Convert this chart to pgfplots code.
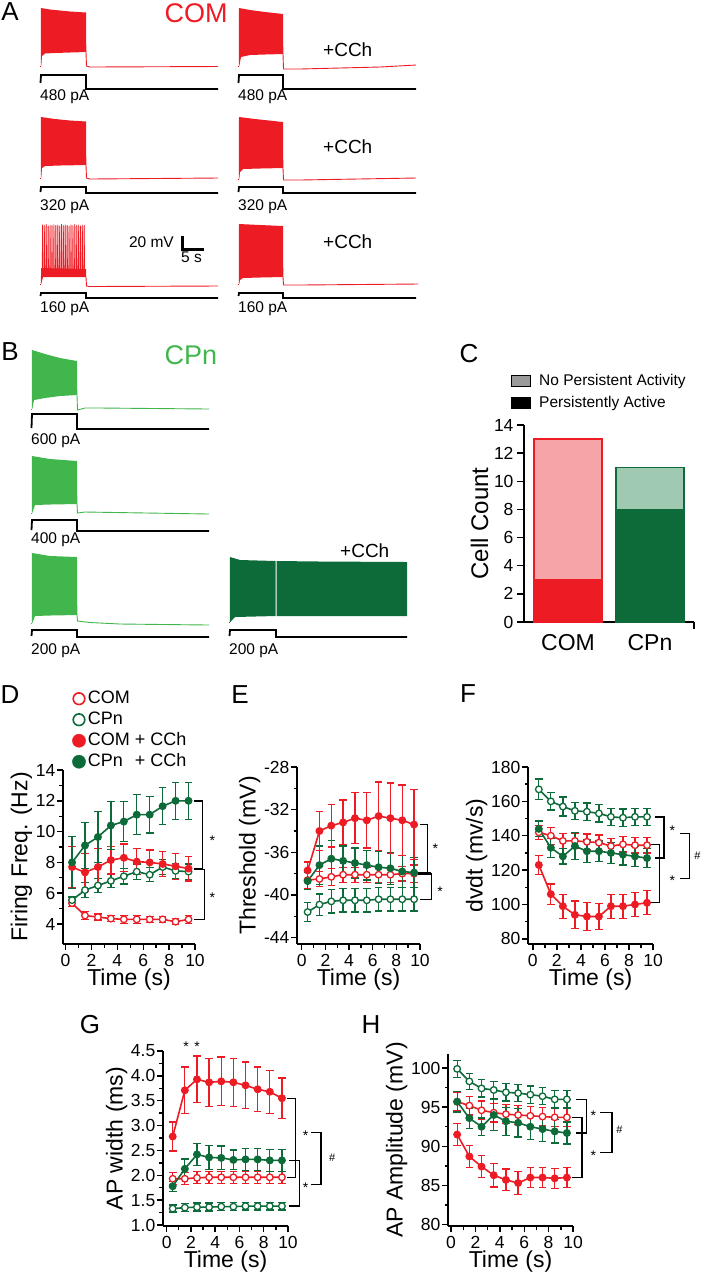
\documentclass[border=0pt]{standalone}
\usepackage{pgfplots}
\pgfplotsset{compat=1.18}
\usepackage{pgfplotstable}
\usepackage{fontspec}
\setmainfont{Liberation Sans}

\definecolor{cRed}{HTML}{ED1C24}
\definecolor{cPink}{HTML}{F7A4A9}
\definecolor{cLGreen}{HTML}{40B64C}
\definecolor{cDGreen}{HTML}{0C6B39}
\definecolor{cPale}{HTML}{A0C9B2}
\definecolor{cBox}{HTML}{9A9A9A}

\newcommand{\fs}[1]{\fontsize{#1}{#1}\selectfont}

% t, COM, CPn, COM+CCh, CPn+CCh (mean, sem)
\pgfplotstableread{
t   comO comOe cpnO cpnOe comC comCe cpnC  cpnCe
0.5 5.35 0.20  5.55 0.20  7.70 1.35  8.00  1.70
1.5 4.55 0.25  6.20 0.50  7.35 1.25  9.10  1.50
2.5 4.45 0.20  6.50 0.45  7.70 1.20  9.65  1.65
3.5 4.35 0.20  6.80 0.45  8.15 0.90  10.40 1.55
4.5 4.30 0.25  7.10 0.50  8.30 0.90  10.65 1.30
5.5 4.30 0.25  7.40 0.50  8.05 0.85  11.10 1.30
6.5 4.30 0.20  7.20 0.45  8.00 0.80  11.10 1.20
7.5 4.30 0.20  7.70 0.50  7.90 0.80  11.65 1.20
8.5 4.15 0.20  7.45 0.50  7.75 0.85  12.00 1.20
9.5 4.30 0.25  7.40 0.50  7.60 0.80  12.00 1.20
}\Dtab
\pgfplotstableread{
t   comO  comOe cpnO  cpnOe comC  comCe cpnC  cpnCe
0.5 -38.6 0.8   -41.6 0.9   -37.7 0.8   -38.7 0.8
1.5 -38.5 0.7   -40.9 1.0   -34.0 1.8   -37.2 1.8
2.5 -38.3 0.8   -40.6 1.1   -33.5 2.0   -36.6 1.7
3.5 -38.1 0.7   -40.5 1.1   -33.2 2.1   -36.8 1.4
4.5 -38.1 0.7   -40.5 1.1   -32.8 2.4   -37.0 1.4
5.5 -38.1 0.7   -40.5 1.1   -33.0 2.6   -37.2 1.4
6.5 -38.1 0.7   -40.4 1.1   -32.6 3.2   -37.4 1.5
7.5 -38.1 0.7   -40.4 1.1   -32.8 3.3   -37.5 1.5
8.5 -38.0 0.7   -40.4 1.1   -33.0 3.3   -37.8 1.5
9.5 -38.0 0.8   -40.4 1.1   -33.4 3.3   -37.9 1.4
}\Etab
\pgfplotstableread{
t   comO  comOe cpnO  cpnOe comC comCe cpnC cpnCe
0.5 142   4.0   167   6.0   123  5.5   144  4.5
1.5 140   5.0   160   5.0   106  6.0   133  5.5
2.5 137   4.5   157   5.5   99   7.0   128  4.5
3.5 137   4.5   154.5 5.0   94   8.0   134  8.0
4.5 136.5 4.5   154   5.0   93   8.0   131  6.5
5.5 136   4.5   153   5.0   93   7.5   131  6.0
6.5 134   4.5   151   5.0   99   7.0   130  6.0
7.5 135   4.5   150.5 5.0   99   7.0   129  6.0
8.5 134.5 4.5   151   5.0   100  7.0   128  6.0
9.5 134.5 4.5   151   5.0   101  7.0   127  5.5
}\Ftab
\pgfplotstableread{
t   comO comOe cpnO cpnOe comC comCe cpnC cpnCe
0.5 1.93 0.12  1.33 0.07  2.78 0.29  1.78 0.10
1.5 1.93 0.12  1.35 0.08  3.71 0.47  2.13 0.20
2.5 1.95 0.12  1.36 0.08  3.93 0.47  2.42 0.22
3.5 1.96 0.12  1.36 0.08  3.87 0.48  2.36 0.24
4.5 1.96 0.12  1.37 0.08  3.89 0.49  2.35 0.24
5.5 1.96 0.12  1.37 0.08  3.87 0.48  2.31 0.20
6.5 1.96 0.12  1.38 0.08  3.81 0.47  2.32 0.22
7.5 1.96 0.12  1.38 0.08  3.73 0.45  2.32 0.22
8.5 1.96 0.12  1.38 0.08  3.68 0.43  2.30 0.22
9.5 1.96 0.12  1.38 0.08  3.55 0.41  2.30 0.22
}\Gtab
\pgfplotstableread{
t   comO comOe cpnO cpnOe comC comCe cpnC cpnCe
0.5 95.7 1.2   99.9 1.1   91.5 1.4   95.7 1.3
1.5 95.2 1.2   98.3 1.0   88.7 1.4   93.6 1.3
2.5 94.6 1.2   97.4 1.1   87.4 1.4   92.5 1.1
3.5 94.3 1.2   97.2 1.1   86.3 1.5   94.0 2.0
4.5 94.1 1.2   96.9 1.1   85.7 1.4   93.2 1.8
5.5 94.0 1.2   96.8 1.1   85.3 1.5   93.0 1.8
6.5 93.9 1.2   96.6 1.1   86.0 1.3   92.5 1.6
7.5 93.8 1.2   96.4 1.1   86.0 1.3   92.2 1.6
8.5 93.7 1.2   96.0 1.1   85.9 1.3   91.9 1.5
9.5 93.7 1.2   96.0 1.1   86.0 1.3   91.7 1.4
}\Htab

\pgfplotsset{
  panel/.style={
    scale only axis, axis lines=left, axis line style={-, line width=1.6pt},
    tick align=outside, tick style={black, line width=1.4pt},
    major tick length=6pt, minor tick length=3.5pt,
    xmin=-0.3, xmax=10, xtick={0,2,...,10}, xticklabels={0,2,4,6,8,10},
    minor x tick num=1, minor y tick num=1,
    tick label style={font=\fs{17.5}},
    xticklabel style={inner sep=1pt, yshift=-3pt},
    yticklabel style={inner sep=1.5pt},
    label style={font=\fs{23}},
    xlabel={Time (s)},
    xlabel style={at={(axis description cs:0.5,0)}, anchor=north, inner sep=0pt, yshift=-25pt},
    ylabel style={inner sep=2pt},
    clip=false,
  },
  ser/.style 2 args={color=#1, line width=1.6pt, mark=*, mark size=3.3pt,
    mark options={fill=#2, draw=#1, line width=1.3pt, solid}, forget plot,
    error bars/.cd, y dir=both, y explicit,
    error bar style={line width=1.3pt, color=#1},
    error mark options={rotate=90, mark size=3.8pt, line width=1.3pt, color=#1}},
}
\tikzset{
  brk/.style={black, line width=1.4pt},
  ast/.style={font=\fs{14}, yshift=-3pt},
  trlab/.style={font=\fs{15.5}, anchor=west, inner sep=0pt},
}

\begin{document}
\begin{tikzpicture}
\useasboundingbox (0pt,0pt) rectangle (703pt,-1280pt);

% ---------------- traces, panels A and B (pixel coordinates) -------------
\begin{axis}[at={(0pt,0pt)}, anchor=north west, scale only axis,
  width=703pt, height=660pt, xmin=0, xmax=703, ymin=0, ymax=660,
  y dir=reverse, axis lines=none, clip=false]

% A, 480 pA
\addplot[cRed, line width=0.9pt] coordinates {(40,66)(41,66)};
\addplot[fill=cRed, draw=none] coordinates {(40.8,66)(41,8)(50,9.5)(60,10.5)(70,11.5)(86,12.5)(86.3,52)(70,52.5)(55,53)(45,53.5)(42,56)(41.3,66)};
\addplot[cRed, line width=0.9pt] coordinates {(86,52)(86.5,66)(90,67)(218,66.5)};
\addplot[black, line width=1.8pt] coordinates {(40.5,83)(41,75)(86,75)(86,89)(218,89)};
\addplot[cRed, line width=0.9pt] coordinates {(237.5,66)(239,66)};
\addplot[fill=cRed, draw=none] coordinates {(238.8,66)(239,8)(250,10)(265,12)(283,14)(283.3,54)(265,54.5)(250,55)(241,57)(239.3,66)};
\addplot[cRed, line width=0.9pt] coordinates {(283,54)(283.5,69)(300,69)(340,68)(380,67)(416,65)};
\addplot[black, line width=1.8pt] coordinates {(238.5,83)(239,75)(283,75)(283,89)(416,89)};
% A, 320 pA
\addplot[cRed, line width=0.9pt] coordinates {(40,178)(41,178)};
\addplot[fill=cRed, draw=none] coordinates {(40.8,178)(41,117)(55,119)(70,120.5)(86,121.5)(86.3,165)(60,165.5)(45,166)(42,168)(41.3,178)};
\addplot[cRed, line width=0.9pt] coordinates {(86,165)(86.5,178)(90,179)(218,178)};
\addplot[black, line width=1.8pt] coordinates {(40.5,192)(41,187)(86,187)(86,193)(218,193)};
\addplot[cRed, line width=0.9pt] coordinates {(237.5,179)(239,179)};
\addplot[fill=cRed, draw=none] coordinates {(238.8,179)(239,117)(255,119)(283,122)(283.3,168)(260,168.5)(243,169)(240,172)(239.3,179)};
\addplot[cRed, line width=0.9pt] coordinates {(283,168)(283.5,180)(300,180)(416,178)};
\addplot[black, line width=1.8pt] coordinates {(238.5,192)(239,187)(283,187)(283,193)(416,193)};
% A, 160 pA
\addplot[cRed, line width=0.9pt] coordinates {(40,284)(41,284)};
\addplot[fill=cRed!22, draw=none] coordinates {(42,226)(85,226)(85,270)(42,270)};
\addplot[fill=cRed, draw=none] coordinates {(40.8,284)(41.2,268)(86,269)(86.2,277)(43,277)(41.3,284)};
\addplot[cRed, line width=0.6pt] coordinates {
(42.15,272)(42.5,224.5)(42.85,272)(44.05,272)(44.4,225)(44.75,272)
(45.95,272)(46.3,224)(46.65,272)(47.85,272)(48.2,225.5)(48.55,272)
(49.75,272)(50.1,224.5)(50.45,272)(51.65,272)(52.0,225)(52.35,272)
(53.55,272)(53.9,224)(54.25,272)(55.45,272)(55.8,225)(56.15,272)
(57.35,272)(57.7,224.5)(58.05,272)(59.25,272)(59.6,225.5)(59.95,272)
(61.15,272)(61.5,224)(61.85,272)(63.05,272)(63.4,225)(63.75,272)
(64.95,272)(65.3,224.5)(65.65,272)(66.85,272)(67.2,225)(67.55,272)
(68.75,272)(69.1,225.5)(69.45,272)(70.65,272)(71.0,224.5)(71.35,272)
(72.55,272)(72.9,225)(73.25,272)(74.45,272)(74.8,224)(75.15,272)
(76.35,272)(76.7,225)(77.05,272)(78.25,272)(78.6,224.5)(78.95,272)
(80.15,272)(80.5,225.5)(80.85,272)(82.05,272)(82.4,224.5)(82.75,272)
(83.95,272)(84.3,225)(84.65,272)};
\addplot[cRed, line width=0.9pt] coordinates {(86,277)(86.5,286)(90,286.5)(218,286)};
\addplot[black, line width=1.8pt] coordinates {(40.5,296)(41,293)(86,293)(86,298)(218,298)};
\addplot[cRed, line width=0.9pt] coordinates {(237.5,284)(239,284)};
\addplot[fill=cRed, draw=none] coordinates {(238.8,284)(239,224)(260,225)(283,226)(283.3,277)(260,277.5)(243,278)(240,280)(239.3,284)};
\addplot[cRed, line width=0.9pt] coordinates {(283,277)(283.5,285)(300,285)(418,284)};
\addplot[black, line width=1.8pt] coordinates {(238.5,296)(239,293)(283,293)(283,298)(416,298)};

% scale bar
\addplot[black, line width=3pt] coordinates {(182,236)(182,249.5)(204,249.5)};

\node[font=\fs{27}, text=cRed] at (axis cs:196,13) {COM};
\node[trlab] at (axis cs:40,97) {480 pA};
\node[trlab] at (axis cs:238,97) {480 pA};
\node[trlab] at (axis cs:40,206.5) {320 pA};
\node[trlab] at (axis cs:238,206.5) {320 pA};
\node[trlab] at (axis cs:40,308.5) {160 pA};
\node[trlab] at (axis cs:238,308.5) {160 pA};
\node[font=\fs{19}, anchor=west, inner sep=0pt] at (axis cs:323,50) {+CCh};
\node[font=\fs{19}, anchor=west, inner sep=0pt] at (axis cs:323,146.5) {+CCh};
\node[font=\fs{19}, anchor=west, inner sep=0pt] at (axis cs:323,241.5) {+CCh};
\node[font=\fs{15.5}, anchor=east, inner sep=0pt] at (axis cs:174,242.5) {20 mV};
\node[trlab] at (axis cs:181,257.5) {5 s};

% B, 600 pA
\addplot[cLGreen, line width=0.9pt] coordinates {(31,409)(32,409)};
\addplot[fill=cLGreen, draw=none] coordinates {(31.8,409)(32,350)(45,354)(60,358)(77,361)(77.3,395)(60,396)(45,398)(34,400)(32.3,409)};
\addplot[cLGreen, line width=0.9pt] coordinates {(77,395)(77.5,410)(85,408)(100,408)(209,409)};
\addplot[black, line width=1.8pt] coordinates {(31.5,428)(32,414)(77,414)(77,429)(209,429)};
% B, 400 pA
\addplot[cLGreen, line width=0.9pt] coordinates {(31,513)(32,513)};
\addplot[fill=cLGreen, draw=none] coordinates {(31.8,513)(32,456)(50,459)(77,461)(77.3,504)(50,504.5)(35,505)(32.3,513)};
\addplot[cLGreen, line width=0.9pt] coordinates {(77,504)(77.5,513)(85,512)(209,514)};
\addplot[black, line width=1.8pt] coordinates {(31.5,530)(32,520)(77,520)(77,531)(209,531)};
% B, 200 pA
\addplot[cLGreen, line width=0.9pt] coordinates {(31,623)(32,623)};
\addplot[fill=cLGreen, draw=none] coordinates {(31.8,623)(32,553)(50,556)(77,557)(77.3,615)(50,615.5)(35,616)(32.3,623)};
\addplot[cLGreen, line width=0.9pt] coordinates {(77,615)(77.5,621)(90,622.5)(120,624)(209,625)};
\addplot[black, line width=1.8pt] coordinates {(31.5,636)(32,630)(77,630)(77,637)(209,637)};
% B, 200 pA + CCh
\addplot[cDGreen, line width=0.9pt] coordinates {(229,622)(230,622)};
\addplot[fill=cDGreen, draw=none] coordinates {(229.8,622)(230,557)(240,560)(275.5,561)(275.5,616)(235,617)(230.3,622)};
\addplot[fill=cDGreen, draw=none] coordinates {(276.6,561)(320,561.5)(407,562)(407,616)(276.6,616)};
\addplot[black, line width=1.8pt] coordinates {(229.5,636)(230,630)(276,630)(276,637)(407,637)};

\node[font=\fs{27}, text=cLGreen] at (axis cs:191,355) {CPn};
\node[trlab] at (axis cs:31,441) {600 pA};
\node[trlab] at (axis cs:31,540) {400 pA};
\node[trlab] at (axis cs:31,650.5) {200 pA};
\node[trlab] at (axis cs:229,650.5) {200 pA};
\node[font=\fs{19}, anchor=west, inner sep=0pt] at (axis cs:340,551) {+CCh};
\end{axis}

% ---------------- C: cell counts ---------------------------------------
\begin{axis}[at={(524pt,-425pt)}, anchor=north west, scale only axis,
  width=170pt, height=197pt, xmin=0.463, xmax=2.537, ymin=0, ymax=14,
  axis lines=left, axis line style={-, line width=1.6pt},
  tick align=outside, tick style={black, line width=1.4pt}, major tick length=7pt,
  ytick={0,2,...,14}, yticklabels={0,2,4,6,8,10,12,14},
  xtick={1,2}, xticklabels={COM,CPn}, xtick style={draw=none},
  tick label style={font=\fs{17.5}}, xticklabel style={font=\fs{23}, inner sep=2pt, yshift=-3pt},
  ylabel={Cell Count}, ylabel style={font=\fs{24}, inner sep=2pt},
  clip=false, legend cell align=left,
  legend style={draw=none, fill=none, inner sep=0pt, at={(rel axis cs:0,1)},
    anchor=north west, xshift=-13pt, yshift=53pt, font=\fs{15.5}, row sep=4pt,
    nodes={inner sep=2pt, text height=11pt, text depth=3pt},
    /tikz/every odd column/.append style={column sep=6pt}},
]
\addplot[ybar, bar width=68pt, bar shift=0pt, fill=cPink, draw=cRed, line width=1.4pt, forget plot] coordinates {(1,13)};
\addplot[ybar, bar width=68pt, bar shift=0pt, fill=cRed, draw=cRed, line width=1.4pt, forget plot] coordinates {(1,3)};
\addplot[ybar, bar width=68pt, bar shift=0pt, fill=cPale, draw=cDGreen, line width=1.4pt, forget plot] coordinates {(2,11)};
\addplot[ybar, bar width=68pt, bar shift=0pt, fill=cDGreen, draw=cDGreen, line width=1.4pt, forget plot] coordinates {(2,8)};
\draw[black, line width=1.4pt] (axis cs:2.537,0) -- ++(0pt,-7pt);
\addlegendimage{legend image code/.code={\draw[fill=cBox, draw=black, line width=1pt] (0pt,-5.5pt) rectangle (19pt,5.5pt);}}
\addlegendentry{No Persistent Activity}
\addlegendimage{legend image code/.code={\draw[fill=black, draw=black, line width=1pt] (0pt,-5.5pt) rectangle (19pt,5.5pt);}}
\addlegendentry{Persistently Active}
\end{axis}

% ---------------- D: firing frequency ----------------------------------
\begin{axis}[panel, at={(63pt,-770pt)}, anchor=north west, width=132pt, height=174pt,
  xmin=-0.2, ymin=2.7, ymax=14, ytick={4,6,...,14}, yticklabels={4,6,8,10,12,14},
  ylabel={Firing Freq. (Hz)}, legend cell align=left,
  legend style={draw=none, fill=none, inner sep=0pt, at={(rel axis cs:0,1)},
    anchor=north west, xshift=9pt, yshift=82pt, font=\fs{18}, row sep=0pt,
    nodes={inner sep=2pt, text height=13pt, text depth=4pt}},
]
\addplot[ser={cRed}{white}] table[x=t, y=comO, y error=comOe] {\Dtab};
\addplot[ser={cDGreen}{white}] table[x=t, y=cpnO, y error=cpnOe] {\Dtab};
\addplot[ser={cRed}{cRed}] table[x=t, y=comC, y error=comCe] {\Dtab};
\addplot[ser={cDGreen}{cDGreen}] table[x=t, y=cpnC, y error=cpnCe] {\Dtab};
\addlegendimage{legend image code/.code={\draw[cRed, fill=white, line width=1.6pt] (6.5pt,0pt) circle (5.8pt);}}
\addlegendentry{COM}
\addlegendimage{legend image code/.code={\draw[cDGreen, fill=white, line width=1.6pt] (6.5pt,0pt) circle (5.8pt);}}
\addlegendentry{CPn}
\addlegendimage{legend image code/.code={\fill[cRed] (6.5pt,0pt) circle (6.6pt);}}
\addlegendentry{COM + CCh}
\addlegendimage{legend image code/.code={\fill[cDGreen] (6.5pt,0pt) circle (6.6pt);}}
\addlegendentry{CPn\hspace{0.67em}+ CCh}
\draw[brk] (axis cs:9.9,12.0) -- (axis cs:10.6,12.0) -- (axis cs:10.6,7.6) -- (axis cs:9.9,7.6);
\draw[brk] (axis cs:9.9,7.55) -- (axis cs:10.75,7.55) -- (axis cs:10.75,4.3) -- (axis cs:9.9,4.3);
\node[ast] at (axis cs:11.35,9.6) {*};
\node[ast] at (axis cs:11.35,5.9) {*};
\end{axis}

% ---------------- E: threshold ------------------------------------------
\begin{axis}[panel, at={(297pt,-767pt)}, anchor=north west, width=123pt, height=177pt,
  xmin=-0.4, ymin=-44.6, ymax=-28, ytick={-44,-40,-36,-32,-28},
  yticklabels={-44,-40,-36,-32,-28}, ylabel={Threshold (mV)}]
\addplot[ser={cRed}{white}] table[x=t, y=comO, y error=comOe] {\Etab};
\addplot[ser={cDGreen}{white}] table[x=t, y=cpnO, y error=cpnOe] {\Etab};
\addplot[ser={cDGreen}{cDGreen}] table[x=t, y=cpnC, y error=cpnCe] {\Etab};
\addplot[ser={cRed}{cRed}] table[x=t, y=comC, y error=comCe] {\Etab};
\draw[brk] (axis cs:10.0,-33.4) -- (axis cs:10.64,-33.4) -- (axis cs:10.64,-38.0) -- (axis cs:10.0,-38.0);
\draw[brk] (axis cs:10.0,-38.0) -- (axis cs:10.95,-38.0) -- (axis cs:10.95,-40.4) -- (axis cs:10.0,-40.4);
\draw[black, line width=2.6pt] (axis cs:9.8,-38.0) -- (axis cs:10.95,-38.0);
\node[ast] at (axis cs:11.3,-35.4) {*};
\node[ast] at (axis cs:11.7,-39.4) {*};
\end{axis}

% ---------------- F: dV/dt ---------------------------------------------
\begin{axis}[panel, at={(528pt,-767pt)}, anchor=north west, width=125pt, height=177pt,
  xmin=-0.4, ymin=77, ymax=180, ytick={80,100,...,180},
  yticklabels={80,100,120,140,160,180}, ylabel={dvdt (mv/s)}]
\addplot[ser={cRed}{white}] table[x=t, y=comO, y error=comOe] {\Ftab};
\addplot[ser={cDGreen}{white}] table[x=t, y=cpnO, y error=cpnOe] {\Ftab};
\addplot[ser={cDGreen}{cDGreen}] table[x=t, y=cpnC, y error=cpnCe] {\Ftab};
\addplot[ser={cRed}{cRed}] table[x=t, y=comC, y error=comCe] {\Ftab};
\draw[brk] (axis cs:10.15,151) -- (axis cs:10.9,151) -- (axis cs:10.9,127) -- (axis cs:10.15,127);
\draw[brk] (axis cs:9.75,135) -- (axis cs:10.56,135) -- (axis cs:10.56,101) -- (axis cs:9.75,101);
\node[ast] at (axis cs:11.6,144.6) {*};
\node[ast] at (axis cs:11.6,115.5) {*};
\draw[brk] (axis cs:12.25,141.2) -- (axis cs:13.05,141.2) -- (axis cs:13.05,115) -- (axis cs:12.25,115);
\node[font=\fs{11}] at (axis cs:13.7,128.5) {\#};
\end{axis}

% ---------------- G: AP width ------------------------------------------
\begin{axis}[panel, at={(163pt,-1051pt)}, anchor=north west, width=125pt, height=175pt,
  ymin=0.98, ymax=4.5, ytick={1,1.5,2,2.5,3,3.5,4,4.5},
  yticklabels={1.0,1.5,2.0,2.5,3.0,3.5,4.0,4.5}, ylabel={AP width (ms)}]
\addplot[ser={cRed}{white}] table[x=t, y=comO, y error=comOe] {\Gtab};
\addplot[ser={cDGreen}{white}] table[x=t, y=cpnO, y error=cpnOe] {\Gtab};
\addplot[ser={cDGreen}{cDGreen}] table[x=t, y=cpnC, y error=cpnCe] {\Gtab};
\addplot[ser={cRed}{cRed}] table[x=t, y=comC, y error=comCe] {\Gtab};
\draw[brk] (axis cs:9.95,3.55) -- (axis cs:10.6,3.55) -- (axis cs:10.6,1.96) -- (axis cs:9.95,1.96);
\draw[brk] (axis cs:10.1,2.3) -- (axis cs:10.93,2.3) -- (axis cs:10.93,1.38) -- (axis cs:10.1,1.38);
\node[ast] at (axis cs:11.45,2.86) {*};
\node[ast] at (axis cs:11.45,1.81) {*};
\draw[brk] (axis cs:11.9,2.86) -- (axis cs:12.72,2.86) -- (axis cs:12.72,1.81) -- (axis cs:11.9,1.81);
\node[font=\fs{11}] at (axis cs:13.64,2.35) {\#};
\node[ast] at (axis cs:1.6,4.65) {*};
\node[ast] at (axis cs:2.5,4.65) {*};
\end{axis}

% ---------------- H: AP amplitude --------------------------------------
\begin{axis}[panel, at={(448pt,-1054pt)}, anchor=north west, width=125pt, height=172pt,
  xmin=-0.25, ymin=79.8, ymax=101.8, ytick={80,85,90,95,100},
  yticklabels={80,85,90,95,100}, ylabel={AP Amplitude (mV)}]
\addplot[ser={cRed}{white}] table[x=t, y=comO, y error=comOe] {\Htab};
\addplot[ser={cDGreen}{white}] table[x=t, y=cpnO, y error=cpnOe] {\Htab};
\addplot[ser={cDGreen}{cDGreen}] table[x=t, y=cpnC, y error=cpnCe] {\Htab};
\addplot[ser={cRed}{cRed}] table[x=t, y=comC, y error=comCe] {\Htab};
\draw[brk] (axis cs:10.27,96.0) -- (axis cs:11.09,96.0) -- (axis cs:11.09,91.7) -- (axis cs:10.27,91.7);
\draw[brk] (axis cs:9.94,93.7) -- (axis cs:10.74,93.7) -- (axis cs:10.74,86.0) -- (axis cs:9.94,86.0);
\node[ast] at (axis cs:11.67,94.3) {*};
\node[ast] at (axis cs:11.67,89.2) {*};
\draw[brk] (axis cs:12.25,94.3) -- (axis cs:13.2,94.3) -- (axis cs:13.2,89.2) -- (axis cs:12.25,89.2);
\node[font=\fs{11}] at (axis cs:13.8,92.1) {\#};
\end{axis}

% panel letters
\foreach \px/\py/\lab in {10/12/A, 10/352/B, 469/354/C, 10/695/D, 240/695/E, 468/694/F, 90/1025/G, 371/1025/H}{
  \node[font=\fs{26}] at (\px pt,-\py pt) {\lab};
}
\end{tikzpicture}
\end{document}
